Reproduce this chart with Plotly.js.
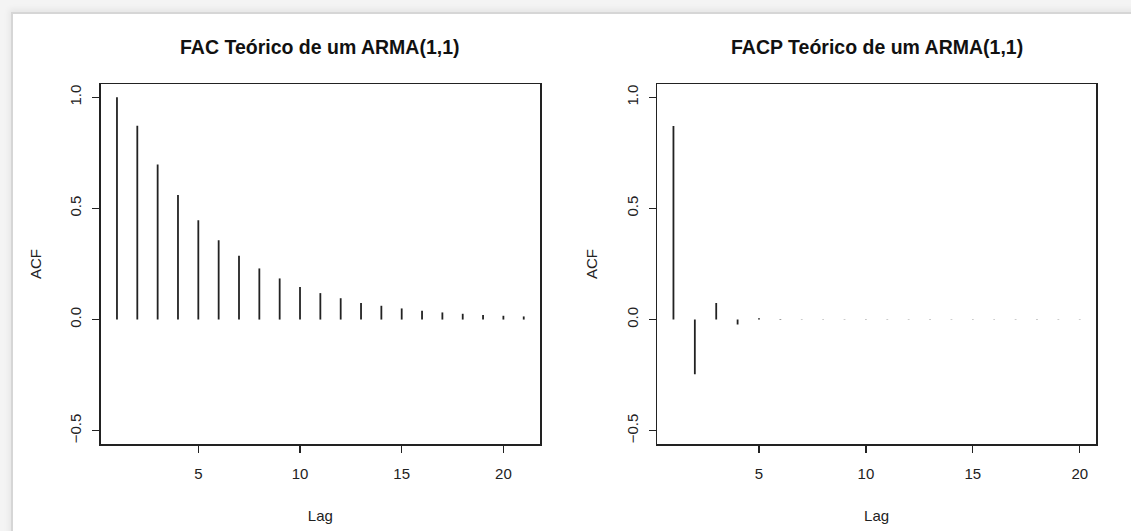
<!DOCTYPE html>
<html>
<head>
<meta charset="utf-8">
<script src="https://cdn.plot.ly/plotly-3.0.1.min.js"></script>
<style>
  html, body { margin: 0; padding: 0; background: #ffffff; overflow: hidden; }
  #wrap { position: relative; width: 1131px; height: 531px; background: #f4f4f4; }
  #card { position: absolute; left: 11px; top: 12px; width: 1140px; height: 540px; background: #ffffff;
          border-left: 2px solid #d6d6d6; border-top: 2px solid #d6d6d6; box-shadow: -2px -3px 6px rgba(0,0,0,0.06); }
  #chart { position: absolute; left: 0; top: 0; width: 1131px; height: 531px; }
</style>
</head>
<body>
<div id="wrap">
  <div id="card"></div>
  <div id="chart"></div>
</div>
<script>
// ---- data ----
const acfLags = [1,2,3,4,5,6,7,8,9,10,11,12,13,14,15,16,17,18,19,20,21];
const acfValues = [1.000,0.872,0.698,0.560,0.447,0.357,0.287,0.230,0.185,0.147,0.119,0.096,0.075,0.062,0.050,0.040,0.032,0.026,0.021,0.017,0.014];

const pacfLags = [1,2,3,4,5,6,7,8,9,10,11,12,13,14,15,16,17,18,19,20];
const pacfValues = [0.871,-0.246,0.075,-0.022,0.006,-0.002,0.001,-0.001,0.001,-0.001,0.001,-0.001,0.001,-0.001,0.001,-0.001,0.001,-0.001,0.001,-0.001];

const yTickVals = [-0.5, 0.0, 0.5, 1.0];
const yTickText = ["\u22120.5", "0.0", "0.5", "1.0"];
const xTickVals = [5, 10, 15, 20];

const titleLeft = "FAC Teórico de um ARMA(1,1)";
const titleRight = "FACP Teórico de um ARMA(1,1)";
const xTitle = "Lag";
const yTitle = "ACF";

// ---- build stick traces ----
function sticks(lags, vals, xa, ya) {
  const xs = [], ys = [];
  for (let i = 0; i < lags.length; i++) {
    xs.push(lags[i], lags[i], null);
    ys.push(0, vals[i], null);
  }
  return { type: 'scatter', mode: 'lines', x: xs, y: ys, xaxis: xa, yaxis: ya,
           line: { color: '#222222', width: 1.8 }, hoverinfo: 'skip', showlegend: false };
}

const W = 1131, H = 531;
const font = "Liberation Sans, Arial, Helvetica, sans-serif";
const yDom = [(H - 444) / H, (H - 84) / H];

function xAxis(domain, range, anchor) {
  return {
    domain: domain, range: range, anchor: anchor,
    tickmode: 'array', tickvals: xTickVals, ticks: 'outside', ticklen: 7, tickwidth: 1.3, tickcolor: '#222',
    showline: true, mirror: true, linecolor: '#222', linewidth: 1.5,
    showgrid: false, zeroline: false, ticklabelstandoff: 8,
    tickfont: { family: font, size: 15, color: '#222' },
    title: { text: xTitle, font: { family: font, size: 15, color: '#222' }, standoff: 30 }
  };
}
function yAxis(range, anchor) {
  return {
    domain: yDom, range: range, anchor: anchor,
    tickmode: 'array', tickvals: yTickVals, ticktext: yTickText, ticks: 'outside', ticklen: 7, tickwidth: 1.3, tickcolor: '#222',
    tickangle: -90,
    showline: true, mirror: true, linecolor: '#222', linewidth: 1.5,
    showgrid: false, zeroline: false, ticklabelstandoff: 5,
    tickfont: { family: font, size: 15, color: '#222' },
    title: { text: yTitle, font: { family: font, size: 15, color: '#222' }, standoff: 22 }
  };
}

const data = [
  sticks(acfLags, acfValues, 'x', 'y'),
  sticks(pacfLags, pacfValues, 'x2', 'y2')
];

const layout = {
  width: W, height: H,
  margin: { l: 0, r: 0, t: 0, b: 0 },
  paper_bgcolor: 'rgba(0,0,0,0)', plot_bgcolor: '#ffffff',
  showlegend: false,
  xaxis: xAxis([100.7 / W, 540 / W], [0.2, 21.8], 'y'),
  yaxis: yAxis([-0.56, 1.06], 'x'),
  xaxis2: xAxis([657.2 / W, 1096 / W], [0.24, 20.76], 'y2'),
  yaxis2: yAxis([-0.56, 1.06], 'x2'),
  annotations: [
    { text: '<b>' + titleLeft + '</b>', xref: 'paper', yref: 'paper', x: (100.7 + 540) / 2 / W, y: (H - 47) / H,
      xanchor: 'center', yanchor: 'middle', showarrow: false, font: { family: font, size: 19.5, color: '#111' } },
    { text: '<b>' + titleRight + '</b>', xref: 'paper', yref: 'paper', x: (657.2 + 1096) / 2 / W, y: (H - 47) / H,
      xanchor: 'center', yanchor: 'middle', showarrow: false, font: { family: font, size: 19.5, color: '#111' } }
  ]
};

Plotly.newPlot('chart', data, layout, { displayModeBar: false, staticPlot: true });
</script>
</body>
</html>
